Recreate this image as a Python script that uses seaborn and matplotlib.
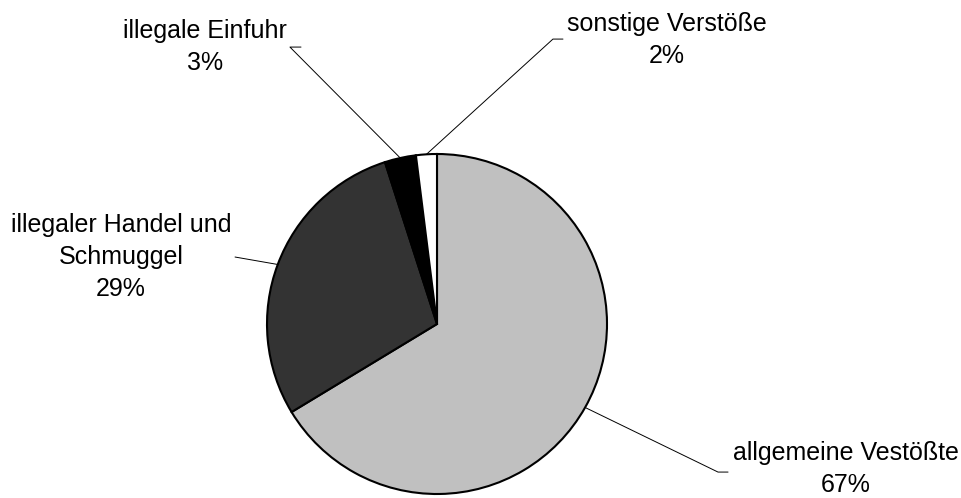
import numpy as np
import matplotlib
matplotlib.use("Agg")
import matplotlib.pyplot as plt
import seaborn as sns

# daten
kategorien = ['allgemeine Vestößte', 'illegaler Handel und\nSchmuggel', 'illegale Einfuhr', 'sonstige Verstöße']
anteile = [67, 29, 3, 2]
farben = ['#c0c0c0', '#333333', '#000000', '#ffffff']

# position der beschriftungen (datenkoordinaten, radius = 1)
text_pos = [(2.406, -0.852), (-1.859, 0.394), (-1.365, 1.629), (1.353, 1.671)]
knick_pos = [(1.653, -0.871), (-1.188, 0.394), (-0.865, 1.629), (0.682, 1.676)]
ende_pos = [(1.712, -0.871), (-1.188, 0.394), (-0.800, 1.629), (0.741, 1.676)]

sns.set_theme(style='white')
plt.rcParams['font.family'] = ['Liberation Sans', 'DejaVu Sans']

fig = plt.figure(figsize=(9.61, 4.98), dpi=100)
ax = fig.add_axes([0, 0, 1, 1])

wedges, _ = ax.pie(
    anteile,
    colors=farben,
    startangle=90,
    counterclock=False,
    radius=1,
    wedgeprops=dict(edgecolor='black', linewidth=1.5),
)

for w, label, wert, tp, kp, ep in zip(wedges, kategorien, anteile, text_pos, knick_pos, ende_pos):
    # mittelpunkt des randes vom segment
    winkel = np.deg2rad((w.theta1 + w.theta2) / 2)
    x0, y0 = np.cos(winkel), np.sin(winkel)
    ax.plot([x0, kp[0], ep[0]], [y0, kp[1], ep[1]], color='black', lw=0.7)
    ax.text(tp[0], tp[1], f"{label}\n{wert}%", ha='center', va='center',
            fontsize=18, color='black', linespacing=1.4)

ax.set_aspect('auto')
ax.set_xlim(-437 / 170, (961 - 437) / 170)
ax.set_ylim((324 - 498) / 170, 324 / 170)
ax.axis('off')

fig.savefig('out.png', dpi=100, facecolor='white')
